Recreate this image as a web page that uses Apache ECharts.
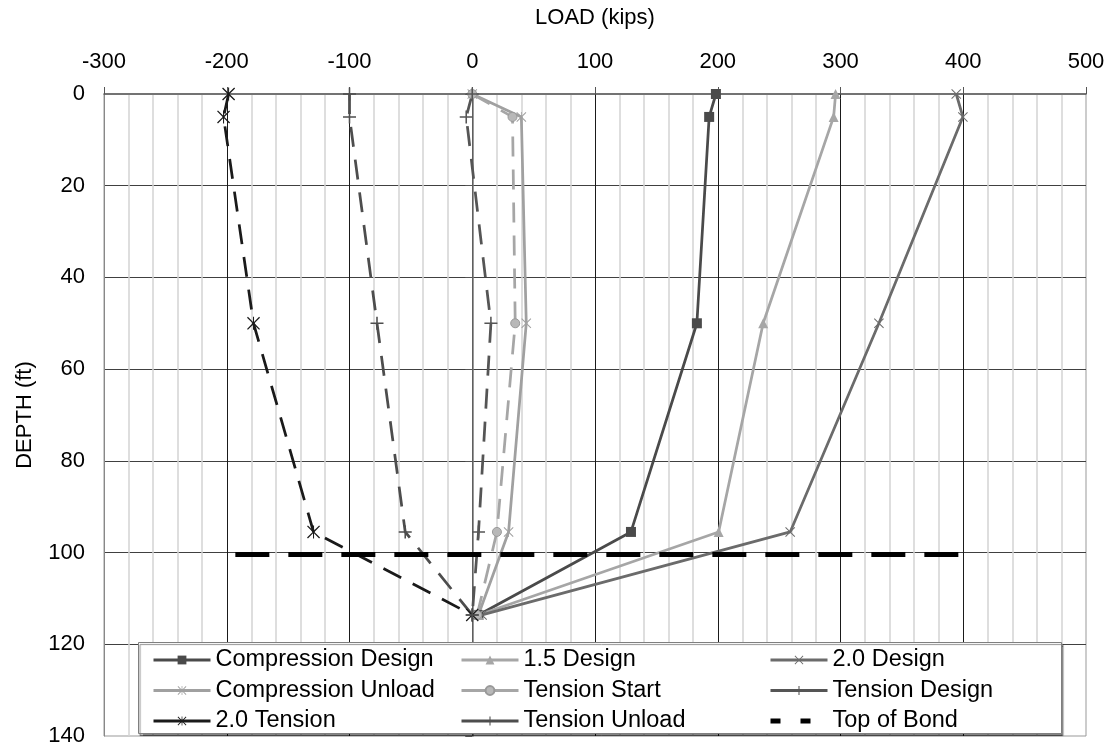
<!DOCTYPE html>
<html>
<head>
<meta charset="utf-8">
<script src="https://cdn.jsdelivr.net/npm/echarts@6/dist/echarts.min.js"></script>
<style>
html,body{margin:0;padding:0;background:#fff;}
#chart{width:1112px;height:747px;}
</style>
</head>
<body>
<div id="chart"></div>
<script>
// ---- data ----
const depths = [0, 5, 50, 95.5, 113.6];
const compressionDesign = [198.5, 193, 183, 129.3, 5];
const design15 = [296, 294.4, 237, 200.7, 5];
const design20 = [394.3, 399.7, 331.3, 259, 8];
const compressionUnload = [0, 40, 44, 29.6, 5];
const tensionStart = [0, 32.8, 35, 20.1, 4];
const tensionDesign = [0, -4.9, 15.2, 5.1, 0];
const tension20 = [-198.5, -202.6, -178.2, -129.3, 0];
const tensionUnload = [-100, -100, -77.6, -54.6, 0];
const topOfBondLoad = [-193, 400];
const topOfBondDepth = [100.4, 100.4];
const xTicks = [-300, 500, 100];
const yTicks = [0, 140, 20];

const FONT = "'Liberation Sans', Arial, sans-serif";
const pair = (xs, ys) => xs.map((v, i) => [v, ys[i]]);

const PLUS = 'path://M0,8.8H20V11.2H0Z M8.8,0H11.2V20H8.8Z';
const XMARK = 'path://M1.4,0L10,8.6L18.6,0L20,1.4L11.4,10L20,18.6L18.6,20L10,11.4L1.4,20L0,18.6L8.6,10L0,1.4Z';
const STAR = 'path://M1.4,0L10,8.6L18.6,0L20,1.4L11.4,10L20,18.6L18.6,20L10,11.4L1.4,20L0,18.6L8.6,10L0,1.4Z M9.2,0H10.8V20H9.2Z';

function mk(name, xs, color, symbol, size, dashed, width, extra) {
  return Object.assign({
    name: name, type: 'line', data: pair(xs, depths),
    symbol: symbol, symbolSize: size, showSymbol: true,
    lineStyle: {color: color, width: width || 2.75, type: dashed ? [20, 13] : 'solid'},
    itemStyle: {color: color, borderWidth: 0},
    emphasis: {disabled: true}, animation: false
  }, extra || {});
}

const series = [
  mk('Compression Design', compressionDesign, '#4a4a4a', 'rect', 10, false),
  mk('1.5 Design', design15, '#a6a6a6', 'triangle', 10, false),
  mk('2.0 Design', design20, '#6b6b6b', XMARK, 10, false),
  mk('Compression Unload', compressionUnload, '#a0a0a0', STAR, 10, false),
  mk('Tension Start', tensionStart, '#a6a6a6', 'circle', 9, true, 2.75, {itemStyle: {color: '#b8b8b8', borderColor: '#999', borderWidth: 1}}),
  mk('Tension Design', tensionDesign, '#555555', PLUS, 13, true),
  mk('2.0 Tension', tension20, '#1a1a1a', STAR, 13, true),
  mk('Tension Unload', tensionUnload, '#4d4d4d', PLUS, 13, true),
  {
    name: 'Top of Bond', type: 'line', data: pair(topOfBondLoad, topOfBondDepth),
    symbol: 'none', lineStyle: {color: '#000', width: 5, type: [34, 19]},
    itemStyle: {color: '#000'}, emphasis: {disabled: true}, animation: false
  }
];

const legendText = {fontSize: 23.5, fontFamily: FONT, color: '#000'};
function legendCol(left, names) {
  return {
    orient: 'vertical', left: left, top: 648, padding: 0,
    itemWidth: 57, itemHeight: 11, itemGap: 6.5,
    textStyle: legendText, selectedMode: false,
    lineStyle: {width: 3, type: 'solid'},
    data: names.map(n => n === 'Top of Bond'
      ? {name: n, lineStyle: {type: [10, 20], width: 5}, itemStyle: {opacity: 0}}
      : {name: n})
  };
}

const chart = echarts.init(document.getElementById('chart'), null, {renderer: 'canvas'});
chart.setOption({
  animation: false,
  backgroundColor: '#fff',
  textStyle: {fontFamily: FONT},
  grid: {left: 104, right: 26, top: 94, bottom: 11, outerBoundsMode: 'none', containLabel: false,
         show: true, borderColor: '#999', borderWidth: 1, backgroundColor: 'transparent'},
  xAxis: {
    type: 'value', position: 'top', min: xTicks[0], max: xTicks[1], interval: xTicks[2],
    name: 'LOAD (kips)', nameLocation: 'middle', nameGap: 65,
    nameTextStyle: {fontSize: 22, fontFamily: FONT, color: '#000'},
    axisLine: {show: true, onZero: false, lineStyle: {color: '#555', width: 1.5}},
    axisTick: {show: true, inside: false, length: 7, lineStyle: {color: '#555'}},
    axisLabel: {fontSize: 22, fontFamily: FONT, color: '#000', margin: 21},
    splitLine: {show: true, showMinLine: false, showMaxLine: false, lineStyle: {color: '#1a1a1a', width: 1}},
    minorTick: {show: false, splitNumber: 5},
    minorSplitLine: {show: true, lineStyle: {color: '#d4d4d4', width: 1.5}}
  },
  yAxis: [{
    type: 'value', inverse: true, min: yTicks[0], max: yTicks[1], interval: yTicks[2],
    name: 'DEPTH (ft)', nameLocation: 'middle', nameGap: 68, nameRotate: 90,
    nameTextStyle: {fontSize: 22, fontFamily: FONT, color: '#000'},
    axisLine: {show: true, onZero: false, lineStyle: {color: '#888', width: 1}},
    axisTick: {show: false},
    axisLabel: {fontSize: 22, fontFamily: FONT, color: '#000', margin: 19},
    splitLine: {show: true, showMinLine: false, showMaxLine: false, lineStyle: {color: '#404040', width: 1}}
  }, {
    type: 'value', inverse: true, min: yTicks[0], max: yTicks[1], interval: yTicks[2],
    position: 'left',
    axisLine: {show: true, onZero: true, onZeroAxisIndex: 0, lineStyle: {color: '#777', width: 1.5}},
    axisTick: {show: true, inside: false, length: 7, lineStyle: {color: '#555'}},
    axisLabel: {show: false},
    splitLine: {show: false}
  }],
  legend: [
    legendCol(152, ['Compression Design', 'Compression Unload', '2.0 Tension']),
    legendCol(460, ['1.5 Design', 'Tension Start', 'Tension Unload']),
    legendCol(768, ['2.0 Design', 'Tension Design', 'Top of Bond'])
  ],
  graphic: [{
    type: 'rect', z: 3, zlevel: 0,
    shape: {x: 138.5, y: 642.5, width: 923, height: 91},
    style: {fill: '#fff', stroke: '#7f7f7f', lineWidth: 1, shadowColor: 'rgba(0,0,0,0.45)', shadowOffsetX: 1.5, shadowOffsetY: 2, shadowBlur: 1}
  }],
  series: series
});
</script>
</body>
</html>
